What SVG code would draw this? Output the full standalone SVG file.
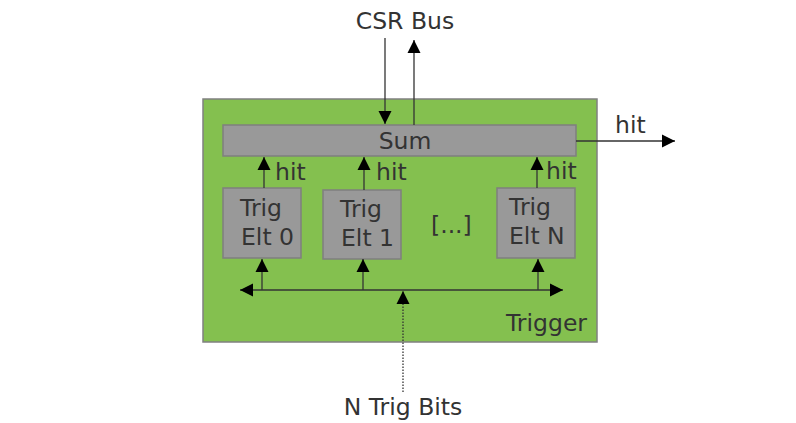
<svg xmlns="http://www.w3.org/2000/svg" width="796" height="423" viewBox="0 0 796 423">
<style>
text{font-family:"DejaVu Sans",sans-serif;font-size:23.5px;fill:#333333}
.box{fill:#999999;stroke:#7f7f7f;stroke-width:1.5}
.ln2{stroke:#333;stroke-width:1.3;fill:none}
</style>
<defs>
<marker id="ah2" markerWidth="14" markerHeight="14" refX="13" refY="6.5" orient="auto" markerUnits="userSpaceOnUse" viewBox="0 0 14 13">
<path d="M0,0 L13,6.5 L0,13 z" fill="#000"/>
</marker>
</defs>
<g id="trigger">
<rect x="203" y="99" width="394" height="243" fill="#84c04f" stroke="#808080" stroke-width="1.5"/>
<text x="587" y="331" text-anchor="end">Trigger</text>
</g>
<g id="sum">
<rect class="box" x="223" y="125" width="353" height="31"/>
<text x="405" y="149" text-anchor="middle">Sum</text>
</g>
<g id="elt0">
<rect class="box" x="223" y="188" width="78" height="70"/>
<text x="240" y="216">Trig</text>
<text x="241" y="245">Elt 0</text>
</g>
<g id="elt1">
<rect class="box" x="323" y="190" width="78" height="69"/>
<text x="340" y="217">Trig</text>
<text x="341" y="246">Elt 1</text>
</g>
<g id="eltn">
<rect class="box" x="497" y="188" width="78" height="70"/>
<text x="509" y="215">Trig</text>
<text x="509" y="244">Elt N</text>
</g>
<g id="dots"><text x="431" y="233">[...]</text></g>
<g id="csr"><text x="405" y="29" text-anchor="middle">CSR Bus</text></g>
<g id="ntrig"><text x="403" y="415" text-anchor="middle">N Trig Bits</text></g>
<g id="connectors">
<line class="ln2" x1="385" y1="38" x2="385" y2="124" marker-end="url(#ah2)"/>
<line class="ln2" x1="414" y1="125" x2="414" y2="40" marker-end="url(#ah2)"/>
<line class="ln2" x1="576" y1="141" x2="675" y2="141" marker-end="url(#ah2)"/>
<text x="615" y="133">hit</text>
<line class="ln2" x1="264" y1="188" x2="264" y2="157" marker-end="url(#ah2)"/>
<text x="275" y="180">hit</text>
<line class="ln2" x1="364" y1="190" x2="364" y2="157" marker-end="url(#ah2)"/>
<text x="376" y="180">hit</text>
<line class="ln2" x1="537" y1="188" x2="537" y2="157" marker-end="url(#ah2)"/>
<text x="546" y="179">hit</text>
<line class="ln2" x1="403" y1="290" x2="240" y2="290" marker-end="url(#ah2)"/>
<line class="ln2" x1="403" y1="290" x2="563" y2="290" marker-end="url(#ah2)"/>
<line class="ln2" x1="262" y1="290" x2="262" y2="259" marker-end="url(#ah2)"/>
<line class="ln2" x1="363" y1="290" x2="363" y2="259" marker-end="url(#ah2)"/>
<line class="ln2" x1="538" y1="290" x2="538" y2="259" marker-end="url(#ah2)"/>
<line class="ln2" x1="403" y1="392" x2="403" y2="291" stroke-dasharray="1.5,1.5" marker-end="url(#ah2)"/>
</g>
</svg>
